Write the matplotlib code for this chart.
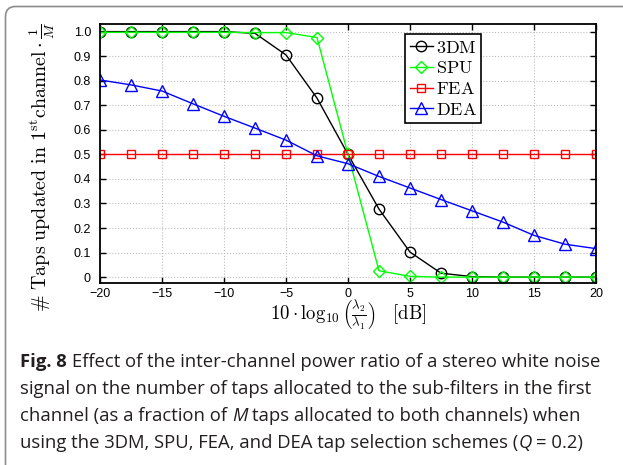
import matplotlib
matplotlib.use("Agg")
import matplotlib.pyplot as plt
from matplotlib.patches import FancyBboxPatch
from matplotlib.transforms import IdentityTransform

# --- data ---
ratio_db = [-20, -17.5, -15, -12.5, -10, -7.5, -5, -2.5, 0,
            2.5, 5, 7.5, 10, 12.5, 15, 17.5, 20]
taps_3dm = [1.0, 1.0, 1.0, 1.0, 1.0, 0.993, 0.905, 0.729, 0.5,
            0.277, 0.102, 0.016, 0.002, 0.0, 0.0, 0.0, 0.0]
taps_spu = [0.997, 0.997, 0.997, 0.997, 0.997, 0.996, 0.996, 0.976, 0.5,
            0.026, 0.003, 0.0, 0.0, 0.0, 0.0, 0.0, 0.0]
taps_fea = [0.5] * 17
taps_dea = [0.803, 0.783, 0.758, 0.706, 0.655, 0.607, 0.558, 0.494, 0.462,
            0.41, 0.363, 0.316, 0.27, 0.224, 0.17, 0.134, 0.116]

series_names = ["3DM", "SPU", "FEA", "DEA"]
x_ticks = [-20, -15, -10, -5, 0, 5, 10, 15, 20]
y_ticks = [0, 0.1, 0.2, 0.3, 0.4, 0.5, 0.6, 0.7, 0.8, 0.9, 1.0]
y_tick_labels = ["0", "0.1", "0.2", "0.3", "0.4", "0.5", "0.6", "0.7", "0.8", "0.9", "1.0"]

# caption runs: (text, kind, space after)
caption_lines = [
    [("Fig. 8", "bold", True),
     ("Effect of the inter-channel power ratio of a stereo white noise", "normal", False)],
    [("signal on the number of taps allocated to the sub-filters in the first", "normal", False)],
    [("channel (as a fraction of", "normal", True), ("M", "italic", True),
     ("taps allocated to both channels) when", "normal", False)],
    [("using the 3DM, SPU, FEA, and DEA tap selection schemes (", "normal", False),
     ("Q", "italic", True), ("= 0.2)", "normal", False)],
]

plt.rcParams["mathtext.fontset"] = "cm"

W, H = 623, 465
fig = plt.figure(figsize=(W / 100, H / 100), dpi=100)

# rounded frame around the figure + caption (pixel coords, runs off right/bottom)
frame = FancyBboxPatch((5.5, -30), W + 40, H - 6.5 + 30,
                       boxstyle="round,pad=0,rounding_size=10",
                       transform=IdentityTransform(), facecolor="none",
                       edgecolor="#8c8c8c", linewidth=1.2, clip_on=False)
fig.patches.append(frame)

ax = fig.add_axes([100 / W, 1 - 283 / H, 496 / W, 259 / H])

ax.plot(ratio_db, taps_3dm, color="black", marker="o", ms=7.5, mfc="none",
        lw=1.0, mew=1.0, label=r"$\mathrm{%s}$" % series_names[0])
ax.plot(ratio_db, taps_spu, color=(0, 1, 0), marker="D", ms=6.5, mfc="none",
        lw=1.0, mew=1.0, label=r"$\mathrm{%s}$" % series_names[1])
ax.plot(ratio_db, taps_fea, color="red", marker="s", ms=6.0, mfc="none",
        lw=1.0, mew=1.0, label=r"$\mathrm{%s}$" % series_names[2])
ax.plot(ratio_db, taps_dea, color="blue", marker="^", ms=8.5, mfc="none",
        lw=1.0, mew=1.0, label=r"$\mathrm{%s}$" % series_names[3])

ax.set_xlim(-20, 20)
ax.set_ylim(-0.024, 1.031)
ax.set_xticks(x_ticks)
ax.set_xticklabels([str(t).replace("-", "\u2212") for t in x_ticks])
ax.set_yticks(y_ticks)
ax.set_yticklabels(y_tick_labels)
ax.grid(True, linestyle=":", color="#bdbdbd", linewidth=0.8)
ax.set_axisbelow(True)
ax.tick_params(direction="in", top=True, right=True, length=4, width=1.0,
               labelsize=9, labelfontfamily="Liberation Sans")
ax.tick_params(axis="y", pad=6.5)
ax.tick_params(axis="x", pad=3.5)
for sp in ax.spines.values():
    sp.set_linewidth(1.3)

ax.set_xlabel(r"$10\cdot\log_{10}\left(\frac{\lambda_2}{\lambda_1}\right)\ \ \ [\mathrm{dB}]$",
              fontsize=13.5, labelpad=-1)
ax.set_ylabel(r"$\#\ \mathrm{Taps\ updated\ in\ 1^{st}channel}\cdot\frac{1}{M}$",
              fontsize=14.4)
ax.yaxis.set_label_coords(-0.087, 0.448)

leg = ax.legend(loc="upper left", bbox_to_anchor=(0.615, 0.961), fontsize=13,
                fancybox=False, edgecolor="black", framealpha=1,
                handlelength=1.3, handletextpad=0.15, labelspacing=0.15,
                borderpad=0.25, borderaxespad=0)
leg.get_frame().set_linewidth(1.2)

# caption, drawn run by run so the bold / italic parts sit inline
renderer = fig.canvas.get_renderer()
cap_size = 13.3
cap_color = "#231f20"
cap_font = "Open Sans"


def text_width(s, weight="normal", style="normal"):
    t = fig.text(0, 0, s, fontsize=cap_size, family=cap_font,
                 weight=weight, style=style)
    w = t.get_window_extent(renderer).width
    t.remove()
    return w


space_w = text_width("x x") - text_width("xx")
baselines = [367, 394, 421, 448]
for line, y_px in zip(caption_lines, baselines):
    x_px = 20
    for s, kind, gap in line:
        weight = "bold" if kind == "bold" else "normal"
        style = "italic" if kind == "italic" else "normal"
        fig.text(x_px / W, 1 - y_px / H, s, fontsize=cap_size, family=cap_font,
                 weight=weight, style=style, color=cap_color, va="baseline")
        x_px += text_width(s, weight, style) + (space_w if gap else 0)

fig.savefig("out.png", dpi=100)
